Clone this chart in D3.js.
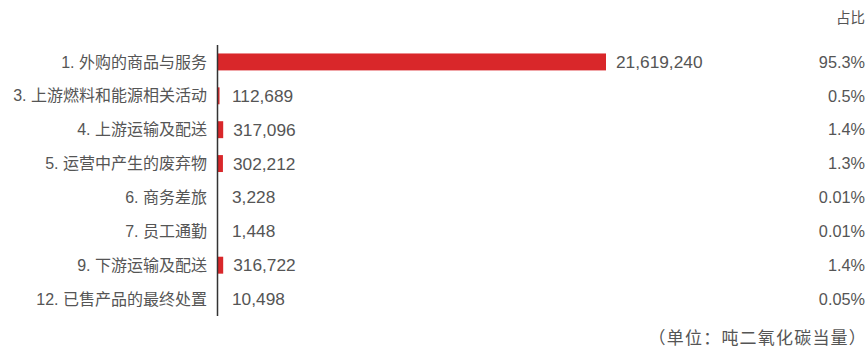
<!DOCTYPE html>
<html lang="zh-CN">
<head>
<meta charset="utf-8">
<script src="https://cdn.jsdelivr.net/npm/d3@7"></script>
<style>
  body { margin: 0; background: #fff; }
  text { font-family: "Liberation Sans", Arial, "Noto Sans CJK SC", sans-serif; fill: #555; }
  text.unit { font-family: "Noto Sans CJK SC", sans-serif; letter-spacing: 1.2px; }
</style>
</head>
<body>
<svg id="chart" width="868" height="353"></svg>
<script>
const categories = [
  "1. 外购的商品与服务",
  "3. 上游燃料和能源相关活动",
  "4. 上游运输及配送",
  "5. 运营中产生的废弃物",
  "6. 商务差旅",
  "7. 员工通勤",
  "9. 下游运输及配送",
  "12. 已售产品的最终处置"
];
const values = [21619240, 112689, 317096, 302212, 3228, 1448, 316722, 10498];
const shares = ["95.3%", "0.5%", "1.4%", "1.3%", "0.01%", "0.01%", "1.4%", "0.05%"];

const svg = d3.select("#chart");
const axisX = 217.5;

const x = d3.scaleLinear()
  .domain([0, d3.max(values)])
  .range([axisX, 606]);

const y = d3.scaleBand()
  .domain(categories)
  .range([45, 316])
  .paddingInner(0.5)
  .paddingOuter(0.25);

// bars
svg.selectAll("rect.bar")
  .data(values)
  .enter()
  .append("rect")
  .attr("class", "bar")
  .attr("x", axisX)
  .attr("y", (d, i) => y(categories[i]))
  .attr("width", d => x(d) - axisX)
  .attr("height", y.bandwidth())
  .attr("fill", "#d9272a");

// axis line
svg.append("line")
  .attr("x1", axisX).attr("x2", axisX)
  .attr("y1", 45).attr("y2", 316)
  .attr("stroke", "#333")
  .attr("stroke-width", 1.5);

const mid = c => y(c) + y.bandwidth() / 2;

// category labels
svg.selectAll("text.cat")
  .data(categories)
  .enter()
  .append("text")
  .attr("class", "cat")
  .attr("x", 207)
  .attr("y", d => mid(d))
  .attr("dy", "0.35em")
  .attr("text-anchor", "end")
  .style("font-size", "16px")
  .text(d => d);

// value labels
svg.selectAll("text.val")
  .data(values)
  .enter()
  .append("text")
  .attr("class", "val")
  .attr("x", d => Math.max(x(d) + 10, 232))
  .attr("y", (d, i) => mid(categories[i]))
  .attr("dy", "0.35em")
  .style("font-size", "17.3px")
  .text(d => d3.format(",")(d));

// share column
svg.selectAll("text.share")
  .data(shares)
  .enter()
  .append("text")
  .attr("class", "share")
  .attr("x", 865)
  .attr("y", (d, i) => mid(categories[i]))
  .attr("dy", "0.35em")
  .attr("text-anchor", "end")
  .style("font-size", "16.3px")
  .text(d => d);

svg.append("text")
  .attr("x", 865)
  .attr("y", 18)
  .attr("dy", "0.35em")
  .attr("text-anchor", "end")
  .style("font-size", "14.5px")
  .text("占比");

svg.append("text")
  .attr("class", "unit")
  .attr("x", 867)
  .attr("y", 338)
  .attr("dy", "0.35em")
  .attr("text-anchor", "end")
  .style("font-size", "17px")
  .text("（单位：吨二氧化碳当量）");
</script>
</body>
</html>
